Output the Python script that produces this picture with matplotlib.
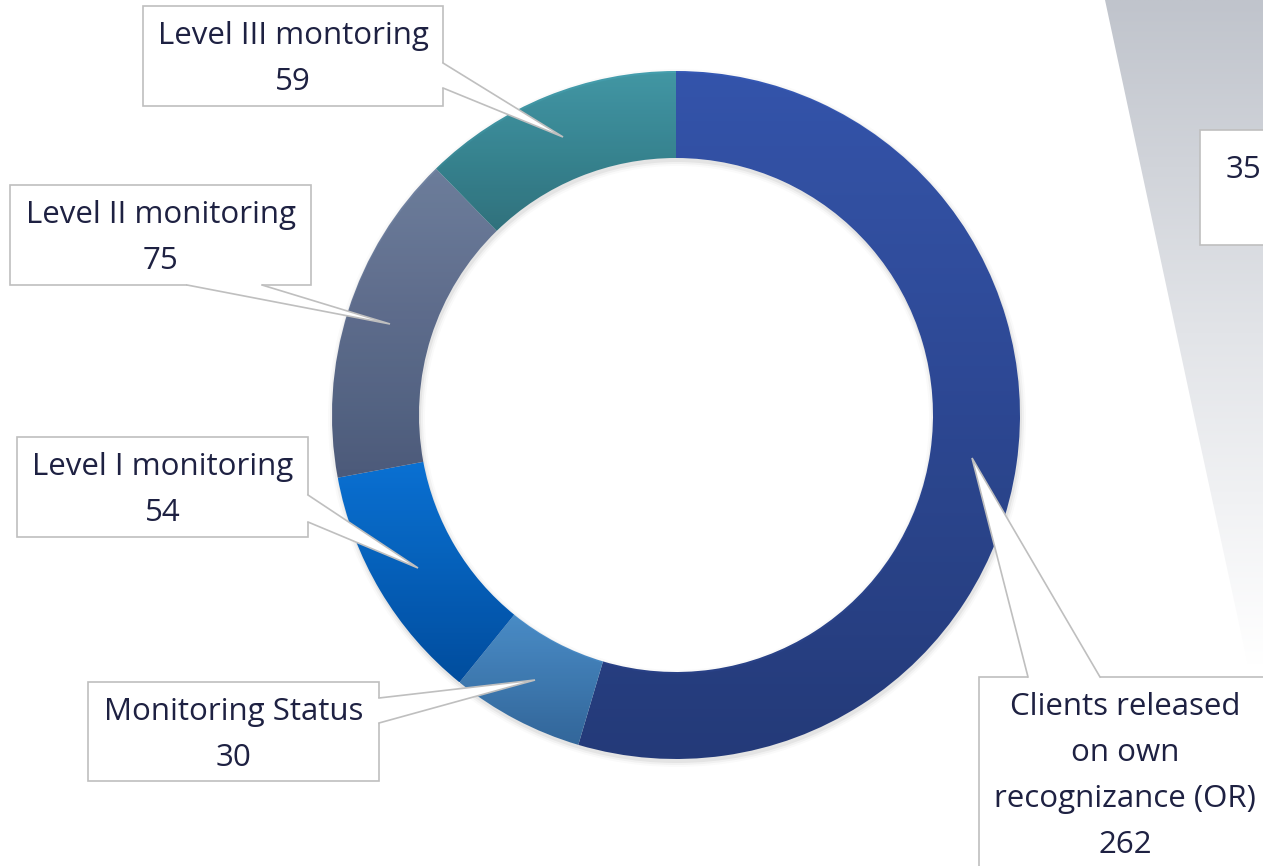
import matplotlib.pyplot as plt
import numpy as np
from matplotlib.colors import LinearSegmentedColormap
from matplotlib.patches import Rectangle, Polygon, Wedge

plt.rcParams['font.family'] = ['Open Sans', 'DejaVu Sans']

# slices, clockwise from 12 o'clock
labels = ['Clients released\non own\nrecognizance (OR)', 'Monitoring Status',
          'Level I monitoring', 'Level II monitoring', 'Level III montoring']
values = [262, 30, 54, 75, 59]
top_colors = ['#3B5FC0', '#539DDE', '#0D80EC', '#7B8DAE', '#4BA9B9']
bot_colors = ['#2A4388', '#3B74AD', '#0457B2', '#56668A', '#36808C']

# label boxes (pixel coords, y down): box x0, y0, x1, y1
boxes = [(979, 677, 1290, 900), (88, 682, 379, 781), (17, 437, 308, 537),
         (10, 185, 311, 285), (143, 6, 443, 106)]
# callout pointer: two base points and a tip
pointers = [((1028, 677), (1100, 677), (972, 458)),
            ((379, 698), (379, 723), (535, 680)),
            ((308, 495), (308, 522), (418, 568)),
            ((187, 285), (262, 285), (390, 324)),
            ((443, 63), (443, 88), (563, 137))]

txt_color = '#1E2142'
edge_grey = '#BFBFBF'
fs = 22.5

fig = plt.figure(figsize=(12.63, 8.66), dpi=100)
ax = fig.add_axes([0, 0, 1, 1])

cx, cy, r, w = 676, 415, 344, 87

# faint shadow round the ring
for k, a in enumerate([0.05, 0.035, 0.02]):
    ax.add_patch(Wedge((cx + 1, cy + 3), r + 1 + 2 * k, 0, 360, width=w + 2 + 4 * k,
                       color='black', alpha=a, lw=0))

wedges, _ = ax.pie(values, center=(cx, cy), radius=r, startangle=270, counterclock=True,
                   wedgeprops=dict(width=w, linewidth=0, edgecolor='none'))
grad = np.linspace(0, 1, 256).reshape(-1, 1)
for wd, c0, c1 in zip(wedges, top_colors, bot_colors):
    wd.set_facecolor('none')
    ext = wd.get_path().get_extents()
    cmap = LinearSegmentedColormap.from_list('g', [c0, c1])
    im = ax.imshow(grad, cmap=cmap, aspect='auto', origin='upper',
                   extent=(ext.x0, ext.x1, ext.y1, ext.y0), interpolation='bilinear')
    im.set_clip_path(wd)

# grey background shape at the right (partial neighbour slide element)
poly = Polygon([(1105, 0), (1150, 210), (1195, 420), (1248, 665), (1263, 665), (1263, 0)],
               closed=True, facecolor='none', edgecolor='none')
ax.add_patch(poly)
cmap_g = LinearSegmentedColormap.from_list('gg', ['#C0C4CC', '#E2E4E8', '#FFFFFF'])
im = ax.imshow(grad, cmap=cmap_g, aspect='auto', origin='upper',
               extent=(1100, 1263, 665, 0), interpolation='bilinear')
im.set_clip_path(poly)
ax.add_patch(Rectangle((1200, 130), 80, 115, facecolor='white', edgecolor=edge_grey, lw=1.2))
ax.text(1243, 170, '35', ha='center', va='center', fontsize=fs, color=txt_color)

for lab, val, (x0, y0, x1, y1), (p1, p2, tip) in zip(labels, values, boxes, pointers):
    ax.add_patch(Rectangle((x0, y0), x1 - x0, y1 - y0, facecolor='white',
                           edgecolor=edge_grey, lw=1.2, zorder=5))
    # white callout tail, pushed a little into the box to hide the box edge there
    mx, my = (x0 + x1) / 2, (y0 + y1) / 2
    q1 = (p1[0] + np.sign(mx - p1[0]) * 3 * (p1[0] in (x0, x1)),
          p1[1] + np.sign(my - p1[1]) * 3 * (p1[1] in (y0, y1)))
    q2 = (p2[0] + np.sign(mx - p2[0]) * 3 * (p2[0] in (x0, x1)),
          p2[1] + np.sign(my - p2[1]) * 3 * (p2[1] in (y0, y1)))
    ax.add_patch(Polygon([q1, p1, tip, p2, q2], closed=True, facecolor='white',
                         edgecolor='none', zorder=6))
    ax.plot([p1[0], tip[0], p2[0]], [p1[1], tip[1], p2[1]], color=edge_grey, lw=1.2,
            zorder=7, solid_joinstyle='miter')
    if lab.startswith('Clients'):
        tx = 1125
        ty = 707
    else:
        tx = (x0 + x1) / 2
        ty = y0 + 30
    lines = lab.split('\n') + [str(val)]
    for i, s in enumerate(lines):
        ax.text(tx, ty + i * 46, s, ha='center', va='center', fontsize=fs,
                color=txt_color, zorder=8)

ax.set_xlim(0, 1263)
ax.set_ylim(866, 0)
ax.axis('off')
fig.savefig('out.png', dpi=100)
